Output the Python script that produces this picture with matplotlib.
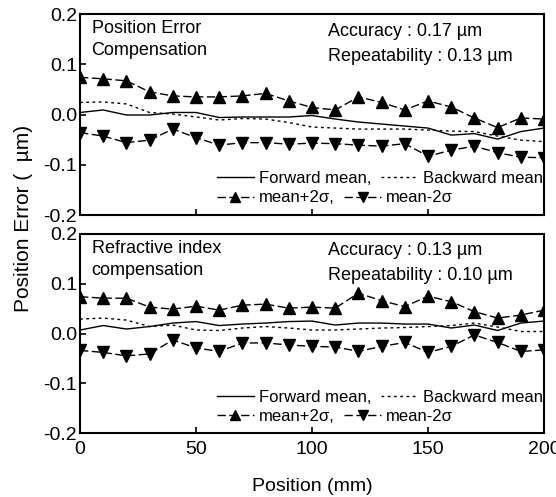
import numpy as np
import matplotlib
matplotlib.use("Agg")
import matplotlib.pyplot as plt
from matplotlib.lines import Line2D

plt.rcParams["font.family"] = ["Liberation Sans Narrow", "Liberation Sans", "DejaVu Sans"]

# ---- Data ------------------------------------------------------------------
position = [0, 10, 20, 30, 40, 50, 60, 70, 80, 90, 100,
            110, 120, 130, 140, 150, 160, 170, 180, 190, 200]

# position error compensation (um)
fwd_pec = [0.004, 0.009, -0.001, -0.001, 0.004, 0.004, -0.006, -0.005, -0.005, -0.005, -0.002,
           -0.009, -0.015, -0.019, -0.023, -0.027, -0.041, -0.038, -0.049, -0.034, -0.027]
bwd_pec = [0.024, 0.025, 0.021, 0.004, 0.001, -0.005, -0.011, -0.008, -0.009, -0.016, -0.025,
           -0.027, -0.029, -0.029, -0.029, -0.031, -0.033, -0.034, -0.043, -0.051, -0.054]
up_pec = [0.074, 0.071, 0.067, 0.045, 0.037, 0.035, 0.035, 0.037, 0.042, 0.027, 0.014,
          0.009, 0.035, 0.024, 0.009, 0.027, 0.015, -0.007, -0.026, -0.007, -0.009]
dn_pec = [-0.036, -0.043, -0.056, -0.051, -0.029, -0.046, -0.061, -0.056, -0.056, -0.059, -0.057,
          -0.058, -0.061, -0.063, -0.058, -0.083, -0.071, -0.063, -0.076, -0.085, -0.086]

# refractive index compensation (um)
fwd_ric = [0.007, 0.016, 0.009, 0.014, 0.021, 0.024, 0.016, 0.019, 0.021, 0.024, 0.025,
           0.017, 0.021, 0.021, 0.019, 0.019, 0.011, 0.017, 0.006, 0.021, 0.025]
bwd_ric = [0.029, 0.031, 0.027, 0.014, 0.017, 0.007, 0.006, 0.011, 0.014, 0.011, 0.007,
           0.007, 0.009, 0.011, 0.012, 0.014, 0.016, 0.021, 0.013, 0.004, 0.004]
up_ric = [0.074, 0.071, 0.071, 0.053, 0.049, 0.055, 0.047, 0.057, 0.059, 0.051, 0.053,
          0.051, 0.081, 0.066, 0.054, 0.075, 0.064, 0.044, 0.031, 0.037, 0.047]
dn_ric = [-0.034, -0.038, -0.045, -0.041, -0.013, -0.029, -0.036, -0.019, -0.019, -0.023, -0.026,
          -0.027, -0.036, -0.026, -0.018, -0.038, -0.026, -0.003, -0.018, -0.036, -0.033]

panels = [
    ("Position Error\nCompensation", "Accuracy : 0.17 \u00b5m", "Repeatability : 0.13 \u00b5m",
     fwd_pec, bwd_pec, up_pec, dn_pec),
    ("Refractive index\ncompensation", "Accuracy : 0.13 \u00b5m", "Repeatability : 0.10 \u00b5m",
     fwd_ric, bwd_ric, up_ric, dn_ric),
]

W, H = 556, 497
fig = plt.figure(figsize=(W / 100, H / 100), dpi=100)
left, right = 80 / W, 544 / W
boxes = [(14, 215), (234, 433)]   # top / bottom in pixels

fs = 13
dash = (0, (6, 2.5))
dots = (0, (2, 2.5))

for i, ((title, acc, rep, fwd, bwd, up, dn), (t, b)) in enumerate(zip(panels, boxes)):
    ax = fig.add_axes([left, 1 - b / H, right - left, (b - t) / H])
    ax.plot(position, fwd, color="black", lw=1.0)
    ax.plot(position, bwd, color="black", lw=1.0, ls=dots)
    ax.plot(position, up, color="black", lw=1.0, ls=dash, marker="^", ms=8.5)
    ax.plot(position, dn, color="black", lw=1.0, ls=dash, marker="v", ms=8.5)

    ax.set_xlim(0, 200)
    ax.set_ylim(-0.2, 0.2)
    ax.set_xticks([0, 50, 100, 150, 200])
    ax.set_yticks([-0.2, -0.1, 0.0, 0.1, 0.2])
    ax.yaxis.set_major_formatter(plt.FuncFormatter(lambda v, _: f"{v:.1f}"))
    ax.tick_params(direction="in", length=4, width=1.2, labelsize=14, pad=2)
    ax.tick_params(axis="x", pad=6)
    for s in ax.spines.values():
        s.set_linewidth(1.5)
    if i == 0:
        ax.tick_params(labelbottom=False)
    else:
        ax.set_xlabel("Position (mm)", fontsize=14, labelpad=14)

    ax.text(0.025, 0.97, title, transform=ax.transAxes, ha="left", va="top",
            fontsize=fs, linespacing=1.35)
    ax.text(0.535, 0.915, acc, transform=ax.transAxes, ha="left", va="center", fontsize=fs)
    ax.text(0.535, 0.79, rep, transform=ax.transAxes, ha="left", va="center",
            fontsize=fs, clip_on=True)

    # two-line key drawn as two single-row legends
    row1 = [Line2D([], [], color="black", lw=1.0),
            Line2D([], [], color="black", lw=1.0, ls=dots)]
    row2 = [Line2D([], [], color="black", lw=1.0, ls=dash, marker="^", ms=7),
            Line2D([], [], color="black", lw=1.0, ls=dash, marker="v", ms=7)]
    kw = dict(frameon=False, ncol=2, fontsize=fs - 1, handlelength=2.2,
              handletextpad=0.3, columnspacing=0.6, borderpad=0, borderaxespad=0,
              loc="center left")
    leg1 = ax.legend(row1, ["Forward mean,", "Backward mean"],
                     bbox_to_anchor=(0.295, 0.18), **kw)
    ax.add_artist(leg1)
    ax.legend(row2, ["mean+2\u03c3,", "mean-2\u03c3"],
              bbox_to_anchor=(0.295, 0.085), **kw)

fig.text(24 / W, 1 - 218 / H, "Position Error (  \u00b5m)", rotation=90,
         ha="center", va="center", fontsize=15)

fig.savefig("out.png", dpi=100)
